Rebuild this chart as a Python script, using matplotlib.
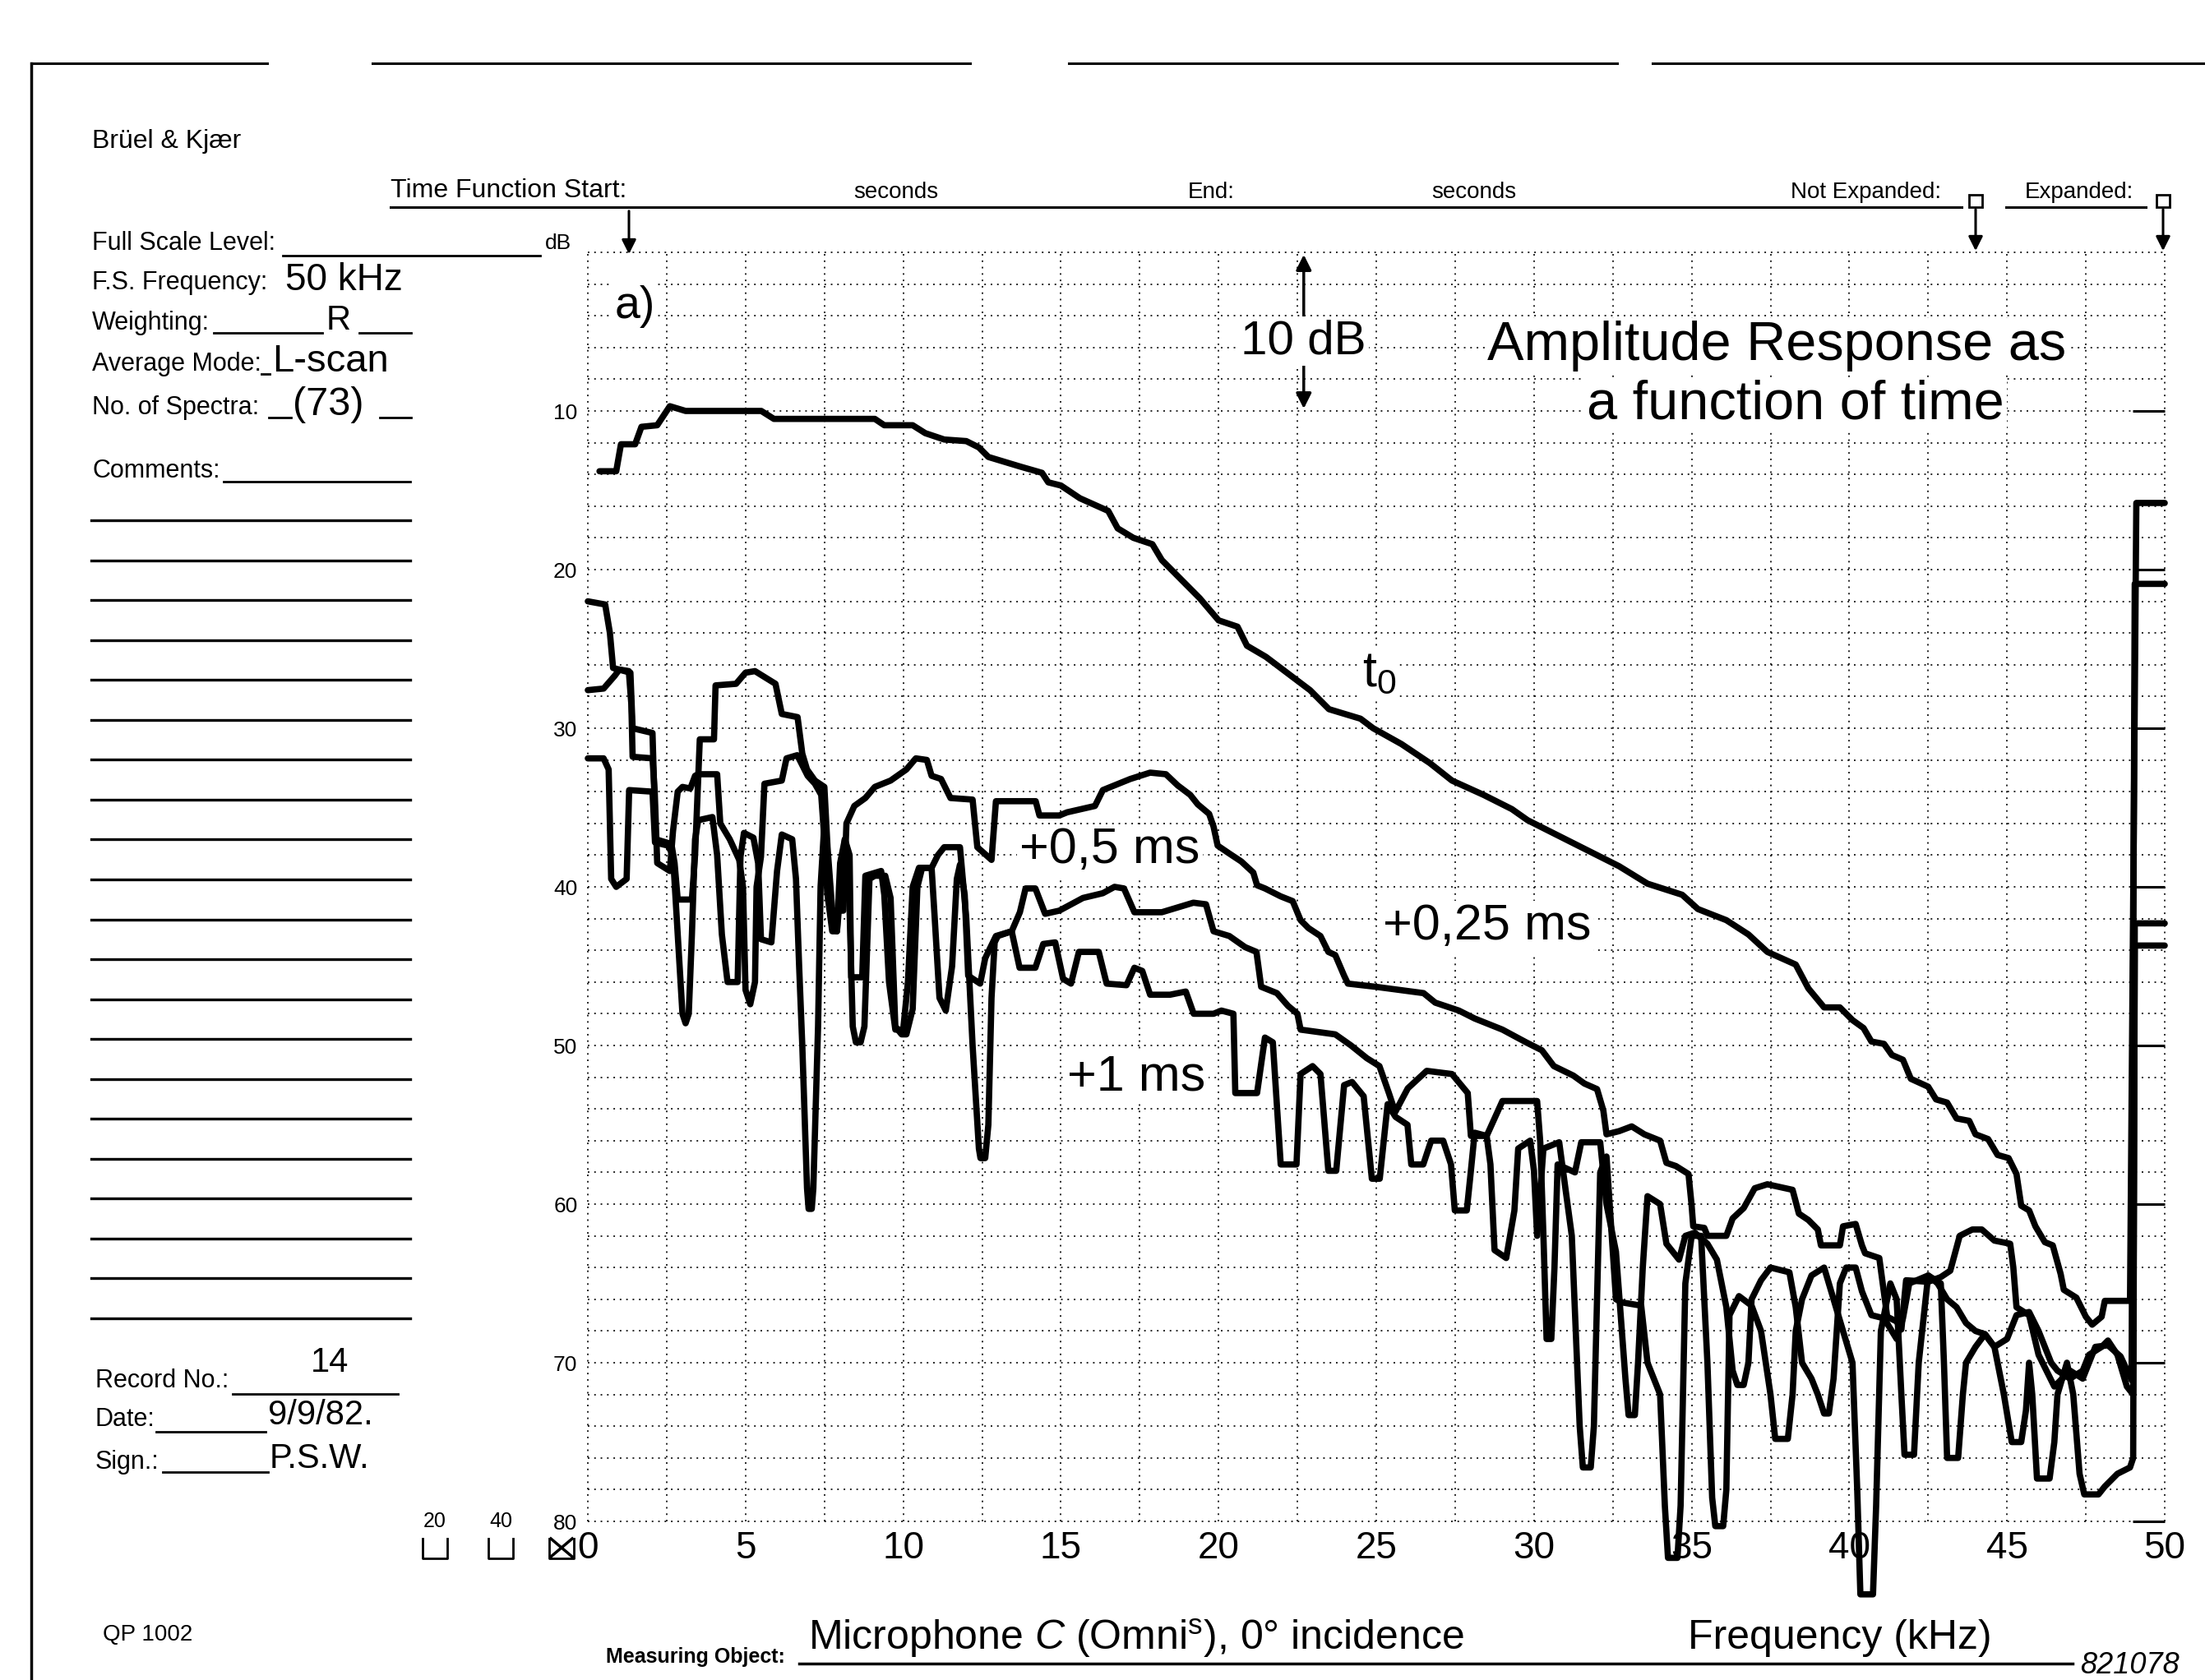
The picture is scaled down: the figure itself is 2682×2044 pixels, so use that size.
import numpy as np
import matplotlib
matplotlib.use('Agg')
import matplotlib.pyplot as plt
from matplotlib.lines import Line2D
from matplotlib.patches import Rectangle, FancyArrowPatch
from matplotlib.ticker import MultipleLocator

W, H = 2682, 2044

# (frequency kHz, level dB)
T0 = [(0.37, 13.8), (0.9, 13.8), (1.05, 12.1), (1.5, 12.1), (1.7, 11.0), (2.2, 10.9), (2.6, 9.7), (3.1, 10.0),
      (5.5, 10.0), (5.9, 10.5), (9.1, 10.5), (9.4, 10.9), (10.3, 10.9), (10.7, 11.4), (11.3, 11.8), (12.0, 11.9),
      (12.4, 12.3), (12.7, 12.9), (13.7, 13.5), (14.4, 13.9), (14.6, 14.5), (15.0, 14.7), (15.6, 15.5), (16.5, 16.3),
      (16.8, 17.4), (17.3, 18.0), (17.9, 18.4), (18.2, 19.4), (18.8, 20.6), (19.4, 21.8), (20.0, 23.2), (20.6, 23.6),
      (20.9, 24.8), (21.5, 25.5), (22.9, 27.6), (23.5, 28.8), (24.5, 29.4), (24.9, 30.0), (25.8, 31.0), (26.7, 32.2),
      (27.4, 33.3), (28.4, 34.2), (29.3, 35.1), (29.8, 35.8), (30.9, 36.9), (31.8, 37.8), (32.7, 38.7), (33.6, 39.8),
      (34.7, 40.5), (35.2, 41.4), (36.1, 42.1), (36.8, 43.0), (37.4, 44.1), (38.3, 44.9), (38.7, 46.4), (39.2, 47.6),
      (39.7, 47.6), (40.1, 48.4), (40.45, 48.9), (40.7, 49.75), (41.1, 49.9), (41.35, 50.6), (41.7, 50.9),
      (41.95, 52.1), (42.5, 52.6), (42.75, 53.4), (43.1, 53.6), (43.4, 54.6), (43.8, 54.75), (44.0, 55.6),
      (44.4, 55.9), (44.7, 56.9), (45.05, 57.1), (45.3, 58.1), (45.45, 60.1), (45.7, 60.4), (45.9, 61.4),
      (46.2, 62.4), (46.45, 62.6), (46.7, 64.4), (46.8, 65.4), (47.2, 65.9), (47.5, 67.1), (47.7, 67.6),
      (48.0, 67.1), (48.1, 66.1), (48.9, 66.1), (49.1, 15.8), (50.0, 15.8)]

P025 = [(0, 22.0), (0.55, 22.2), (0.7, 24.0), (0.8, 26.2), (1.35, 26.5), (1.42, 30.0), (2.05, 30.3), (2.15, 37.0),
        (2.65, 37.3), (2.75, 38.5), (2.85, 40.8), (3.3, 40.8), (3.4, 38.0), (3.55, 30.7), (4.0, 30.7), (4.05, 27.3),
        (4.7, 27.2), (5.0, 26.5), (5.3, 26.4), (5.95, 27.2), (6.15, 29.1), (6.65, 29.3), (6.8, 31.6), (6.95, 32.6),
        (7.2, 33.3), (7.5, 33.7), (7.6, 37.5), (7.75, 41.5), (8.1, 41.5), (8.2, 36.0), (8.45, 34.9), (8.8, 34.4),
        (9.1, 33.7), (9.6, 33.3), (10.1, 32.6), (10.4, 31.9), (10.75, 32.0), (10.9, 33.0), (11.2, 33.2),
        (11.5, 34.4), (12.2, 34.5), (12.35, 37.5), (12.8, 38.3), (12.94, 34.6), (14.2, 34.6), (14.32, 35.5),
        (14.95, 35.5), (15.2, 35.3), (16.08, 34.9), (16.33, 33.9), (17.2, 33.2), (17.83, 32.8), (18.33, 32.9),
        (18.7, 33.6), (19.1, 34.2), (19.34, 34.8), (19.7, 35.4), (19.84, 36.2), (19.97, 37.4), (20.34, 37.9),
        (20.72, 38.4), (21.1, 39.1), (21.22, 39.9), (21.47, 40.1), (21.97, 40.6), (22.35, 40.9), (22.6, 42.1),
        (22.85, 42.6), (23.23, 43.1), (23.48, 44.1), (23.7, 44.3), (23.98, 45.6), (24.1, 46.1), (24.98, 46.3),
        (25.36, 46.4), (26.5, 46.7), (26.87, 47.3), (27.62, 47.8), (28.12, 48.3), (29.0, 49.0), (29.75, 49.8),
        (30.25, 50.3), (30.63, 51.3), (31.25, 51.9), (31.6, 52.4), (32.0, 52.75), (32.2, 54.1), (32.3, 55.6),
        (32.7, 55.4), (33.1, 55.1), (33.5, 55.6), (34.0, 56.0), (34.2, 57.4), (34.5, 57.6), (34.9, 58.1),
        (35.0, 60.1), (35.05, 61.4), (35.4, 61.5), (35.5, 62.0), (36.1, 62.0), (36.3, 60.9), (36.65, 60.25),
        (37.0, 59.0), (37.4, 58.75), (38.2, 59.1), (38.4, 60.6), (38.7, 61.0), (39.0, 61.6), (39.1, 62.6),
        (39.7, 62.6), (39.8, 61.4), (40.2, 61.25), (40.4, 62.6), (40.5, 63.1), (40.95, 63.4), (41.1, 65.6),
        (41.2, 67.1), (41.5, 67.4), (41.65, 67.9), (41.8, 64.8), (42.5, 64.9), (42.9, 64.6), (43.2, 64.2),
        (43.5, 62.0), (43.9, 61.6), (44.2, 61.6), (44.6, 62.3), (45.1, 62.5), (45.2, 64.0), (45.3, 66.5),
        (45.7, 67.0), (46.0, 69.5), (46.5, 71.5), (47.0, 70.5), (47.4, 71.0), (47.8, 69.0), (48.2, 68.9),
        (48.6, 69.6), (48.95, 71.1), (49.05, 20.9), (50.0, 20.9)]

P05 = [(0, 27.6), (0.5, 27.5), (0.85, 26.7), (1.0, 26.3), (1.3, 26.4), (1.38, 28.5), (1.42, 31.8), (2.05, 31.9),
       (2.12, 34.0), (2.2, 38.5), (2.6, 39.0), (2.7, 36.5), (2.85, 34.0), (3.0, 33.7), (3.25, 33.8), (3.4, 33.0),
       (3.5, 32.9), (4.1, 32.9), (4.2, 36.0), (4.5, 37.0), (4.8, 38.3), (4.92, 40.0), (5.0, 46.5), (5.15, 47.4),
       (5.3, 46.0), (5.35, 40.0), (5.49, 38.1), (5.6, 33.5), (6.15, 33.3), (6.3, 31.9), (6.64, 31.7), (6.97, 33.0),
       (7.2, 33.5), (7.4, 34.2), (7.5, 37.0), (7.6, 40.5), (7.75, 42.8), (7.9, 42.8), (8.0, 38.5), (8.15, 37.0),
       (8.3, 38.0), (8.35, 45.7), (8.7, 45.7), (8.8, 39.3), (9.3, 39.0), (9.4, 40.5), (9.55, 46.0), (9.75, 49.0),
       (10.0, 49.0), (10.15, 46.0), (10.3, 40.0), (10.5, 38.8), (10.9, 38.8), (11.0, 42.0), (11.15, 47.0),
       (11.35, 47.8), (11.55, 45.0), (11.7, 39.5), (11.8, 38.6), (11.95, 40.5), (12.06, 45.6), (12.44, 46.1),
       (12.6, 44.5), (12.94, 43.1), (13.44, 42.8), (13.7, 41.6), (13.88, 40.1), (14.19, 40.1), (14.5, 41.7),
       (14.95, 41.5), (15.7, 40.7), (16.33, 40.4), (16.7, 40.0), (17.0, 40.1), (17.33, 41.6), (18.2, 41.6),
       (19.2, 41.0), (19.6, 41.1), (19.84, 42.8), (20.34, 43.1), (20.84, 43.8), (21.2, 44.1), (21.35, 46.3),
       (21.85, 46.7), (22.2, 47.5), (22.5, 48.0), (22.6, 49.0), (23.7, 49.3), (24.2, 50.0), (24.7, 50.8),
       (25.1, 51.3), (25.4, 53.0), (25.6, 54.2), (26.0, 52.7), (26.6, 51.6), (27.4, 51.8), (27.9, 53.0),
       (28.0, 55.7), (28.5, 55.7), (29.0, 53.5), (30.1, 53.5), (30.2, 56.1), (30.3, 62.0), (30.4, 68.5),
       (30.55, 68.5), (30.65, 64.0), (30.75, 57.5), (31.3, 58.0), (31.5, 56.1), (32.1, 56.1), (32.3, 60.0),
       (32.6, 63.0), (32.9, 71.0), (33.0, 73.3), (33.2, 73.3), (33.3, 70.0), (33.45, 64.0), (33.6, 59.5),
       (34.0, 60.0), (34.2, 62.5), (34.6, 63.5), (34.8, 62.0), (35.1, 61.8), (35.5, 62.5), (35.8, 63.5),
       (36.1, 66.5), (36.3, 70.5), (36.45, 71.4), (36.65, 71.4), (36.8, 70.0), (36.9, 66.0), (37.2, 64.8),
       (37.5, 64.0), (38.1, 64.3), (38.3, 66.5), (38.5, 70.0), (38.8, 71.0), (39.0, 72.0), (39.2, 73.2),
       (39.35, 73.2), (39.5, 71.0), (39.7, 65.0), (39.9, 64.0), (40.2, 64.0), (40.4, 65.5), (40.7, 67.0),
       (41.1, 67.2), (41.5, 68.5), (41.7, 67.2), (41.9, 65.0), (42.5, 64.5), (42.8, 65.0), (43.1, 66.0),
       (43.4, 66.5), (43.7, 67.5), (44.0, 68.0), (44.3, 68.2), (44.6, 69.0), (45.0, 68.5), (45.3, 67.0),
       (45.7, 66.8), (46.0, 68.0), (46.4, 70.0), (46.6, 70.5), (47.0, 71.0), (47.4, 70.5), (47.6, 69.5),
       (48.0, 69.0), (48.2, 68.6), (48.5, 69.5), (48.8, 71.5), (49.0, 72.0), (49.05, 42.3), (50.0, 42.3)]

P1 = [(0, 31.9), (0.5, 31.9), (0.66, 32.6), (0.74, 39.5), (0.9, 40.0), (1.23, 39.5), (1.31, 33.9), (2.05, 34.0),
      (2.13, 37.2), (2.54, 37.4), (2.7, 38.0), (2.85, 43.0), (3.0, 48.0), (3.1, 48.6), (3.2, 48.0), (3.3, 43.0),
      (3.4, 37.0), (3.5, 35.8), (3.95, 35.6), (4.1, 38.0), (4.25, 43.0), (4.43, 46.0), (4.75, 46.0), (4.84, 38.1),
      (4.95, 36.6), (5.25, 36.9), (5.4, 38.5), (5.49, 43.3), (5.82, 43.5), (6.0, 39.0), (6.15, 36.7),
      (6.48, 37.0), (6.6, 39.5), (6.7, 45.0), (6.8, 50.0), (6.95, 59.0), (7.0, 60.3), (7.1, 60.3), (7.15, 59.0),
      (7.3, 48.8), (7.38, 40.0), (7.5, 36.0), (7.6, 40.5), (7.9, 42.8), (8.0, 40.5), (8.15, 37.0), (8.28, 40.0),
      (8.4, 48.8), (8.5, 49.8), (8.65, 49.8), (8.77, 48.8), (8.93, 39.5), (9.1, 39.3), (9.43, 39.3), (9.6, 40.7),
      (9.75, 48.8), (9.95, 49.3), (10.1, 49.3), (10.3, 47.7), (10.45, 40.0), (10.6, 38.8), (10.9, 38.8),
      (11.1, 38.0), (11.3, 37.5), (11.8, 37.5), (12.0, 42.0), (12.2, 50.0), (12.4, 56.5), (12.45, 57.1),
      (12.6, 57.1), (12.7, 55.0), (12.8, 47.0), (12.9, 43.5), (13.0, 43.1), (13.44, 42.8), (13.69, 45.1),
      (14.19, 45.1), (14.44, 43.6), (14.82, 43.5), (15.07, 45.8), (15.32, 46.1), (15.57, 44.1), (16.2, 44.1),
      (16.45, 46.1), (17.08, 46.2), (17.33, 45.1), (17.58, 45.3), (17.83, 46.8), (18.46, 46.8), (18.96, 46.6),
      (19.21, 48.0), (19.84, 48.0), (20.09, 47.8), (20.47, 48.0), (20.53, 53.0), (21.22, 53.0), (21.47, 49.5),
      (21.72, 49.8), (21.97, 57.5), (22.47, 57.5), (22.6, 51.8), (22.98, 51.3), (23.23, 51.8), (23.48, 57.9),
      (23.73, 57.9), (23.98, 52.5), (24.23, 52.3), (24.6, 53.2), (24.86, 58.4), (25.11, 58.4), (25.36, 53.7),
      (25.61, 54.5), (25.99, 55.0), (26.11, 57.5), (26.49, 57.5), (26.74, 56.0), (27.12, 56.0), (27.37, 57.5),
      (27.49, 60.4), (27.87, 60.4), (28.0, 57.9), (28.12, 55.5), (28.5, 55.7), (28.62, 57.5), (28.75, 62.9),
      (29.12, 63.4), (29.38, 60.4), (29.5, 56.5), (29.88, 56.0), (30.0, 57.9), (30.1, 62.0), (30.3, 56.5),
      (30.8, 56.1), (31.2, 62.0), (31.45, 74.0), (31.55, 76.6), (31.8, 76.6), (31.9, 74.0), (32.1, 58.0),
      (32.3, 57.0), (32.6, 66.0), (32.8, 66.2), (33.4, 66.4), (33.6, 70.0), (34.0, 72.0), (34.15, 79.0),
      (34.25, 82.3), (34.55, 82.3), (34.65, 79.0), (34.8, 65.0), (35.0, 62.0), (35.3, 62.0), (35.5, 70.0),
      (35.65, 78.5), (35.75, 80.3), (36.0, 80.3), (36.1, 78.0), (36.2, 67.0), (36.5, 65.8), (36.9, 66.4),
      (37.2, 68.0), (37.5, 72.0), (37.65, 74.8), (38.05, 74.8), (38.2, 72.0), (38.3, 68.0), (38.5, 66.0),
      (38.8, 64.5), (39.2, 64.0), (39.5, 66.0), (39.8, 68.0), (40.1, 70.0), (40.25, 78.0), (40.35, 84.6),
      (40.75, 84.6), (40.85, 79.0), (41.0, 68.0), (41.3, 65.0), (41.5, 66.0), (41.65, 72.0), (41.75, 75.8),
      (42.05, 75.8), (42.2, 70.0), (42.5, 64.5), (42.9, 65.0), (43.0, 70.0), (43.1, 76.0), (43.45, 76.0),
      (43.6, 72.0), (43.7, 70.0), (44.0, 69.0), (44.3, 68.2), (44.6, 69.0), (44.9, 72.0), (45.15, 75.0),
      (45.45, 75.0), (45.6, 73.0), (45.7, 70.0), (45.8, 72.0), (45.95, 77.3), (46.35, 77.3), (46.5, 75.0),
      (46.6, 72.0), (46.9, 70.0), (47.1, 72.0), (47.3, 77.0), (47.45, 78.3), (47.9, 78.3), (48.1, 77.8),
      (48.5, 77.0), (48.9, 76.6), (49.0, 76.0), (49.05, 43.7), (50.0, 43.7)]

X_TICKS = [0, 5, 10, 15, 20, 25, 30, 35, 40, 45, 50]
Y_TICKS = [10, 20, 30, 40, 50, 60, 70, 80]

plt.rcParams['font.family'] = 'Liberation Sans'
plt.rcParams['mathtext.fontset'] = 'custom'
plt.rcParams['mathtext.rm'] = 'Liberation Sans'
plt.rcParams['mathtext.it'] = 'Liberation Sans:italic'
plt.rcParams['mathtext.bf'] = 'Liberation Sans:bold'


def fx(x):
    return x / W


def fy(y):
    return 1 - y / H


def hline(fig, x0, x1, y, lw=2.0):
    fig.add_artist(Line2D([fx(x0), fx(x1)], [fy(y), fy(y)], color='black', lw=lw,
                          transform=fig.transFigure))


def vline(fig, x, y0, y1, lw=2.0):
    fig.add_artist(Line2D([fx(x), fx(x)], [fy(y0), fy(y1)], color='black', lw=lw,
                          transform=fig.transFigure))


def ftext(fig, x, y, s, size=22, ha='left', va='center', **kw):
    fig.text(fx(x), fy(y), s, fontsize=size, ha=ha, va=va, color='black', **kw)


def farrow(fig, x, y0, y1):
    fig.add_artist(FancyArrowPatch((fx(x), fy(y0)), (fx(x), fy(y1)), transform=fig.transFigure,
                                   arrowstyle='-|>', mutation_scale=26, lw=2.2, color='black'))


fig = plt.figure(figsize=(W / 100, H / 100), dpi=100)
fig.patch.set_facecolor('white')
ax = fig.add_axes([fx(715), fy(1851), (2633 - 715) / W, (1851 - 307) / H])

for pts in (T0, P025, P05, P1):
    a = np.array(pts)
    ax.plot(a[:, 0], a[:, 1], color='black', lw=5.5, solid_joinstyle='round',
            solid_capstyle='round', zorder=5, clip_on=False)

ax.set_xlim(0, 50)
ax.set_ylim(80, 0)
ax.set_xticks(X_TICKS)
ax.set_xticklabels([str(v) for v in X_TICKS], fontsize=33)
ax.xaxis.set_minor_locator(MultipleLocator(2.5))
ax.set_yticks([0] + Y_TICKS)
ax.set_yticklabels([''] + [str(v) for v in Y_TICKS], fontsize=19)
ax.yaxis.set_minor_locator(MultipleLocator(2))
ax.set_axisbelow(True)
ax.grid(which='both', color='black', lw=1.4, linestyle=(0, (1, 3)), alpha=0.85)
ax.tick_params(which='both', length=0)
ax.tick_params(axis='x', pad=8)
ax.tick_params(axis='y', which='major', pad=9, left=False, right=True, length=28, width=2.2,
               direction='in', labelleft=True, labelright=False)
ax.yaxis.get_major_ticks()[0].tick2line.set_visible(False)
for s in ax.spines.values():
    s.set_visible(False)
for gl in ax.get_xgridlines() + ax.get_ygridlines():
    gl.set_clip_on(False)

box = dict(facecolor='white', edgecolor='none', pad=2)
ax.text(1.5, 3.4, 'a)', fontsize=40, ha='center', va='center', bbox=box, zorder=4)
ax.text(22.7, 5.6, '10 dB', fontsize=42, ha='center', va='center', bbox=box, zorder=4)
ax.annotate('', xy=(22.7, 0.0), xytext=(22.7, 4.2),
            arrowprops=dict(arrowstyle='-|>', lw=2.5, color='black', mutation_scale=28))
ax.annotate('', xy=(22.7, 10.0), xytext=(22.7, 7.0),
            arrowprops=dict(arrowstyle='-|>', lw=2.5, color='black', mutation_scale=28))
ax.text(37.7, 5.9, 'Amplitude Response as', fontsize=48, ha='center', va='center', bbox=box, zorder=4)
ax.text(38.3, 9.6, 'a function of time', fontsize=48, ha='center', va='center', bbox=box, zorder=4)
ax.text(25.1, 26.5, r'$\mathregular{t_0}$', fontsize=44, ha='center', va='center', bbox=box, zorder=4)
ax.text(16.55, 37.7, '+0,5 ms', fontsize=44, ha='center', va='center', bbox=box, zorder=4)
ax.text(28.5, 42.5, '+0,25 ms', fontsize=44, ha='center', va='center', bbox=box, zorder=4)
ax.text(17.4, 52.0, '+1 ms', fontsize=44, ha='center', va='center', bbox=box, zorder=4)

# page frame
for x0, x1 in [(38, 325), (453, 1180), (1300, 1967), (2010, 2682)]:
    hline(fig, x0, x1, 77, lw=2.2)
vline(fig, 38, 77, 2044, lw=2.5)

# header
ftext(fig, 112, 172, 'Brüel & Kjær', size=23)
ftext(fig, 475, 232, 'Time Function Start:', size=23)
hline(fig, 475, 2386, 252, lw=2.2)
ftext(fig, 1090, 234, 'seconds', size=20, ha='center')
ftext(fig, 1473, 234, 'End:', size=20, ha='center')
ftext(fig, 1793, 234, 'seconds', size=20, ha='center')
ftext(fig, 2269, 234, 'Not Expanded:', size=20, ha='center')
ftext(fig, 2529, 234, 'Expanded:', size=20, ha='center')
hline(fig, 2440, 2610, 252, lw=2.2)
for bx in (2403, 2631):
    fig.add_artist(Rectangle((fx(bx - 8), fy(252)), 16 / W, 15 / H, fill=False, lw=2,
                             transform=fig.transFigure))
    farrow(fig, bx, 252, 308)
farrow(fig, 765, 254, 312)

# left form
ftext(fig, 112, 296, 'Full Scale Level:')
hline(fig, 344, 657, 311)
ftext(fig, 663, 296, 'dB', size=19)
ftext(fig, 112, 344, 'F.S. Frequency:')
ftext(fig, 347, 341, '50 kHz', size=33)
ftext(fig, 112, 393, 'Weighting:')
hline(fig, 260, 392, 405)
ftext(fig, 397, 390, 'R', size=30)
hline(fig, 437, 500, 405)
ftext(fig, 112, 443, 'Average Mode:')
hline(fig, 318, 328, 455)
ftext(fig, 331, 440, 'L-scan', size=34)
ftext(fig, 112, 496, 'No. of Spectra:')
hline(fig, 327, 354, 508)
ftext(fig, 356, 492, '(73)', size=35)
hline(fig, 462, 500, 508)
ftext(fig, 112, 573, 'Comments:')
hline(fig, 272, 499, 586)
for k in range(21):
    hline(fig, 111, 499, 633 + k * 48.55, lw=2.4)
ftext(fig, 116, 1680, 'Record No.:')
hline(fig, 283, 484, 1696)
ftext(fig, 401, 1658, '14', size=30, ha='center')
ftext(fig, 116, 1727, 'Date:')
hline(fig, 190, 323, 1742)
ftext(fig, 326, 1722, '9/9/82.', size=30)
ftext(fig, 116, 1779, 'Sign.:')
hline(fig, 198, 326, 1791)
ftext(fig, 328, 1775, 'P.S.W.', size=30)
ftext(fig, 125, 1989, 'QP 1002', size=20)

# paper speed boxes
ftext(fig, 529, 1851, '20', size=18, ha='center')
ftext(fig, 609, 1851, '40', size=18, ha='center')
for bx in (529, 609, 683):
    fig.add_artist(Line2D([fx(bx - 15), fx(bx - 15), fx(bx + 15), fx(bx + 15)],
                          [fy(1872), fy(1896), fy(1896), fy(1872)], color='black', lw=2,
                          transform=fig.transFigure))
fig.add_artist(Line2D([fx(670), fx(696)], [fy(1872), fy(1894)], color='black', lw=2.5,
                      transform=fig.transFigure))
fig.add_artist(Line2D([fx(670), fx(696)], [fy(1894), fy(1872)], color='black', lw=2.5,
                      transform=fig.transFigure))

# footer
ftext(fig, 955, 2016, 'Measuring Object:', size=18, ha='right', weight='bold')
hline(fig, 972, 2521, 2024, lw=2.5)
ftext(fig, 983, 1993, r'Microphone $\mathit{C}$ (Omni$^{\mathregular{s}}$), 0° incidence', size=36)
ftext(fig, 2238, 1993, 'Frequency (kHz)', size=36, ha='center')
ftext(fig, 2530, 2026, '821078', size=26, style='italic')

fig.savefig('out.png', dpi=100, facecolor='white')
